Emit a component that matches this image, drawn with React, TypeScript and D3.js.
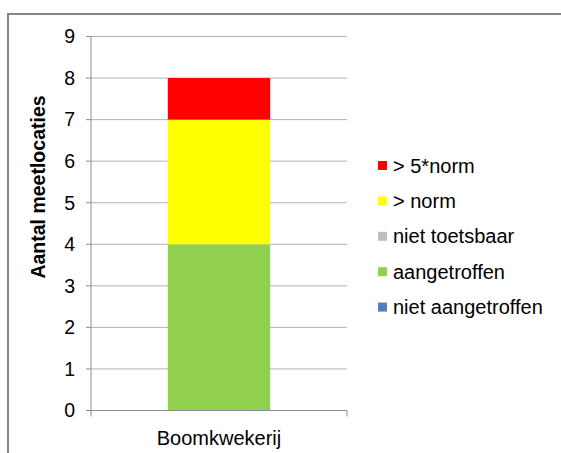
import React from "react";
import * as d3 from "d3";

const categories = ["Boomkwekerij"];
const seriesNames = ["niet aangetroffen", "aangetroffen", "niet toetsbaar", "> norm", "> 5*norm"];
const seriesColors = ["#4F81BD", "#92D050", "#BFBFBF", "#FFFF00", "#FF0000"];
const niet_aangetroffen = [0];
const aangetroffen = [4];
const niet_toetsbaar = [0];
const boven_norm = [3];
const boven_5norm = [1];
const yTicks = [0, 1, 2, 3, 4, 5, 6, 7, 8, 9];
const legendOrder = [4, 3, 2, 1, 0];

export default function App() {
  const W = 561, H = 453;
  const left = 91, right = 347, top = 36.5, bottom = 410.5;
  const seriesValues = [niet_aangetroffen, aangetroffen, niet_toetsbaar, boven_norm, boven_5norm];
  const y = d3.scaleLinear().domain([0, 9]).range([bottom, top]);
  const x = d3.scaleBand().domain(categories).range([left, right]).paddingInner(0.6).paddingOuter(0.3);
  const table = categories.map((c, i) => {
    const o: any = { cat: c };
    seriesNames.forEach((s, j) => (o[s] = seriesValues[j][i]));
    return o;
  });
  const stacked = d3.stack().keys(seriesNames)(table);
  const font = "Liberation Sans, Arial, sans-serif";
  const fs = 19.5;
  const lfs = 20;
  return (
    <svg width={W} height={H} style={{ position: "absolute", left: 0, top: 0 }}>
      <rect x={0} y={0} width={W} height={H} fill="#fff" />
      <rect x={8} y={14} width={W + 10} height={H + 10} fill="#fff" stroke="#868686" strokeWidth={2} />
      {yTicks.map((t) => (
        <g key={t}>
          {t > 0 && <line x1={left} x2={right} y1={y(t)} y2={y(t)} stroke="#B3B3B3" strokeWidth={1} />}
          <line x1={left - 5} x2={left} y1={y(t)} y2={y(t)} stroke="#8C8C8C" strokeWidth={1} />
          <text x={75} y={y(t)} dy="0.35em" textAnchor="end" fontFamily={font} fontSize={fs} fill="#000">
            {t}
          </text>
        </g>
      ))}
      {stacked.map((s, j) =>
        s.map((d, i) =>
          d[1] - d[0] > 0 ? (
            <rect
              key={j + "-" + i}
              x={x(categories[i])}
              width={x.bandwidth()}
              y={y(d[1])}
              height={y(d[0]) - y(d[1])}
              fill={seriesColors[j]}
            />
          ) : null
        )
      )}
      <line x1={left} x2={left} y1={top} y2={bottom} stroke="#8C8C8C" strokeWidth={1} />
      <line x1={left} x2={right} y1={bottom} y2={bottom} stroke="#8C8C8C" strokeWidth={1} />
      <line x1={left} x2={left} y1={bottom} y2={bottom + 6} stroke="#8C8C8C" strokeWidth={1} />
      <line x1={right} x2={right} y1={bottom} y2={bottom + 6} stroke="#8C8C8C" strokeWidth={1} />
      {categories.map((c) => (
        <text key={c} x={(x(c) as number) + x.bandwidth() / 2} y={438} dy="0.35em" textAnchor="middle" fontFamily={font} fontSize={lfs} fill="#000">
          {c}
        </text>
      ))}
      <text transform={`translate(38,187) rotate(-90)`} textAnchor="middle" dy="0.35em" fontFamily={font} fontSize={fs} fontWeight="bold" fill="#000">
        Aantal meetlocaties
      </text>
      {legendOrder.map((j, k) => {
        const cy = 165.5 + k * 35.4;
        return (
          <g key={j}>
            <rect x={378} y={cy - 4.5} width={9} height={9} fill={seriesColors[j]} />
            <text x={393} y={cy} dy="0.35em" fontFamily={font} fontSize={lfs} fill="#000">
              {seriesNames[j]}
            </text>
          </g>
        );
      })}
    </svg>
  );
}
